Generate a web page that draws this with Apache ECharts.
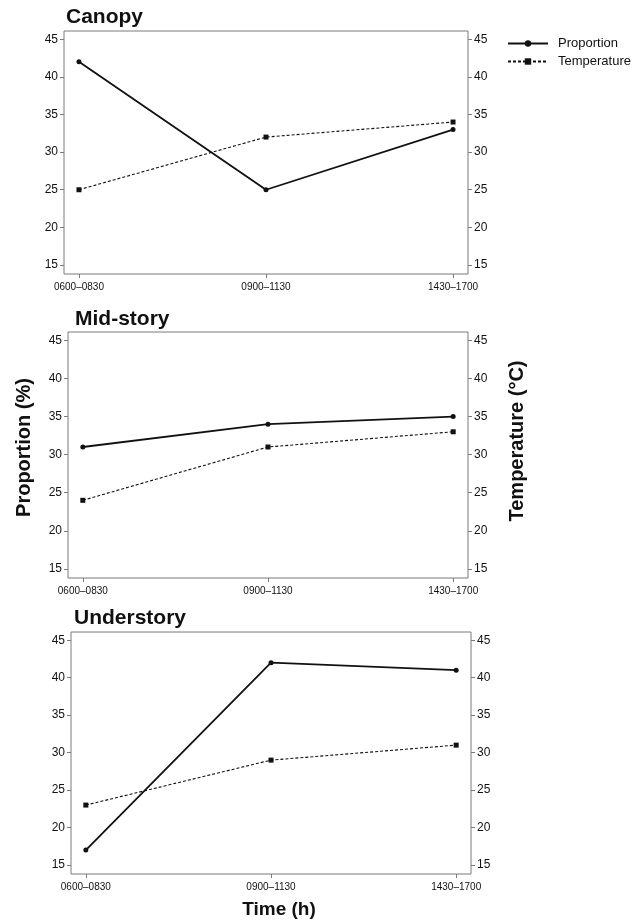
<!DOCTYPE html>
<html>
<head>
<meta charset="utf-8">
<script src="https://cdn.jsdelivr.net/npm/echarts@6/dist/echarts.min.js"></script>
<style>
html,body{margin:0;padding:0;background:#fff;}
#c{width:633px;height:921px;}
</style>
</head>
<body>
<div id="c"></div>
<script>
const categories = ['0600–0830', '0900–1130', '1430–1700'];
const panelTitles = ['Canopy', 'Mid-story', 'Understory'];
const canopyProportion = [42, 25, 33];
const canopyTemperature = [25, 32, 34];
const midProportion = [31, 34, 35];
const midTemperature = [24, 31, 33];
const underProportion = [17, 42, 41];
const underTemperature = [23, 29, 31];
const yTicks = [15, 20, 25, 30, 35, 40, 45];

const proportionSets = [canopyProportion, midProportion, underProportion];
const temperatureSets = [canopyTemperature, midTemperature, underTemperature];

const FONT = "'Liberation Sans', Arial, Helvetica, sans-serif";
const FRAME = '#7a7a7a';
const INK = '#111';

const grids = [
  {left: 64, top: 31, width: 404, height: 243},
  {left: 68, top: 332, width: 400, height: 246},
  {left: 71, top: 632, width: 400, height: 242}
];
const titleTops = [7, 309, 608];
const titleLefts = [66, 75, 74];

const xIdx = categories.map((_, i) => i);

const option = {
  backgroundColor: '#fff',
  animation: false,
  textStyle: {fontFamily: FONT},
  title: panelTitles.map((t, i) => ({
    text: t, left: titleLefts[i], top: titleTops[i], padding: 0,
    textStyle: {fontSize: 21, fontWeight: 'bold', color: INK, fontFamily: FONT}
  })),
  legend: {
    orient: 'vertical', left: 507, top: 37, padding: 0,
    itemWidth: 40, itemHeight: 8, itemGap: 5,
    data: ['Proportion', 'Temperature'],
    textStyle: {fontSize: 13, color: INK, fontFamily: FONT, padding: [0, 0, 0, 5]}
  },
  grid: grids.map(g => Object.assign({show: true, borderColor: FRAME, borderWidth: 1, backgroundColor: 'transparent'}, g)),
  xAxis: grids.map((g, i) => ({
    type: 'value', gridIndex: i, min: -0.08, max: 2.08,
    name: i === 2 ? 'Time (h)' : '',
    nameLocation: 'middle', nameGap: 26,
    nameTextStyle: {fontSize: 19, fontWeight: 'bold', color: INK, fontFamily: FONT, padding: [0, 0, 0, 16]},
    axisLine: {show: false, onZero: false},
    splitLine: {show: false},
    axisTick: {show: true, length: 4, lineStyle: {color: FRAME}, customValues: xIdx},
    axisLabel: {show: true, margin: 8, fontSize: 10, color: INK, fontFamily: FONT,
      customValues: xIdx, formatter: v => categories[Math.round(v)]}
  })),
  yAxis: [].concat(...grids.map((g, i) => [
    {
      type: 'value', gridIndex: i, position: 'left', min: 13.8, max: 46.1,
      name: i === 1 ? 'Proportion (%)' : '',
      nameLocation: 'middle', nameRotate: 90, nameGap: 34,
      nameTextStyle: {fontSize: 20, fontWeight: 'bold', color: INK, fontFamily: FONT, padding: [0, 0, 0, 15]},
      axisLine: {show: false, onZero: false}, splitLine: {show: false},
      axisTick: {show: true, length: 4, lineStyle: {color: FRAME}, customValues: yTicks},
      axisLabel: {margin: 6, fontSize: 12, color: INK, fontFamily: FONT, customValues: yTicks}
    },
    {
      type: 'value', gridIndex: i, position: 'right', min: 13.8, max: 46.1,
      name: i === 1 ? 'Temperature (°C)' : '',
      nameLocation: 'middle', nameRotate: 90, nameGap: 39,
      nameTextStyle: {fontSize: 20, fontWeight: 'bold', color: INK, fontFamily: FONT, padding: [0, 0, 0, 28]},
      axisLine: {show: false, onZero: false}, splitLine: {show: false},
      axisTick: {show: true, length: 4, lineStyle: {color: FRAME}, customValues: yTicks},
      axisLabel: {margin: 6, fontSize: 12, color: INK, fontFamily: FONT, customValues: yTicks}
    }
  ])),
  series: [].concat(...grids.map((g, i) => [
    {
      name: 'Proportion', type: 'line', xAxisIndex: i, yAxisIndex: 2 * i,
      data: proportionSets[i].map((v, k) => [xIdx[k], v]),
      symbol: 'circle', symbolSize: 5,
      lineStyle: {color: INK, width: 1.8, type: 'solid'},
      itemStyle: {color: INK}
    },
    {
      name: 'Temperature', type: 'line', xAxisIndex: i, yAxisIndex: 2 * i + 1,
      data: temperatureSets[i].map((v, k) => [xIdx[k], v]),
      symbol: 'rect', symbolSize: 5,
      lineStyle: {color: INK, width: 1.1, type: [3, 2]},
      itemStyle: {color: INK}
    }
  ]))
};

const chart = echarts.init(document.getElementById('c'), null, {renderer: 'canvas'});
chart.setOption(option);
</script>
</body>
</html>
